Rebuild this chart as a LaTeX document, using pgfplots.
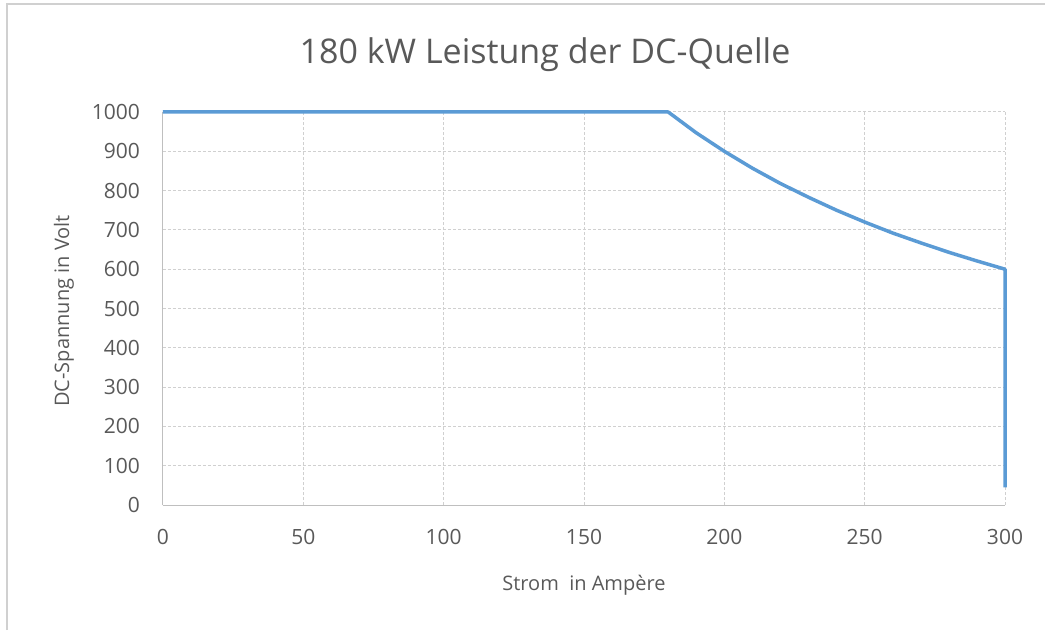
\documentclass[border=0pt]{standalone}
\usepackage{pgfplots}
\pgfplotsset{compat=1.18}
\usepackage{fontspec}
\setmainfont{Open Sans}
\definecolor{txt}{HTML}{595959}
\definecolor{gridc}{HTML}{D0D0D0}
\definecolor{axc}{HTML}{BFBFBF}
\definecolor{line1}{HTML}{5B9BD5}
\begin{document}
\begin{tikzpicture}[x=1pt,y=1pt]
\useasboundingbox (-163,-125) rectangle (882,505);
\draw[gridc, line width=1.5pt] (-156,-125) -- (-156,501) -- (882,501);
\begin{axis}[
  at={(0,0)}, anchor=origin,
  scale only axis, width=842pt, height=393pt,
  xmin=0, xmax=300, ymin=0, ymax=1000,
  xtick={0,50,...,300}, ytick={0,100,...,1000},
  axis x line*=bottom, axis y line*=left,
  axis line style={axc, line width=1pt, -},
  major tick length=0pt,
  grid=major,
  major grid style={gridc, dash pattern=on 3pt off 2pt, line width=1pt},
  /pgf/number format/assume math mode=true,
  /pgf/number format/1000 sep={},
  tick label style={font=\fontsize{21}{24}\selectfont, text=txt},
  yticklabel style={anchor=east, inner sep=0pt, xshift=-23pt},
  xticklabel style={anchor=center, inner sep=0pt, yshift=-32pt},
  clip=false,
]
\addplot[line1, line width=3.5pt, line join=round] coordinates {
 (0,1000) (180,1000) (190,947) (200,900) (210,857) (220,818) (230,783)
 (240,750) (250,720) (260,692) (270,667) (280,643) (290,621) (300,600) (300,45)
};
\end{axis}
\node[text=txt, font=\fontsize{34}{40}\selectfont] at (382,450) {180 kW Leistung der DC-Quelle};
\node[text=txt, font=\fontsize{20}{24}\selectfont] at (421,-80) {Strom \ in Ampère};
\node[text=txt, font=\fontsize{20}{24}\selectfont, rotate=90] at (-99,194) {DC-Spannung in Volt};
\end{tikzpicture}
\end{document}
